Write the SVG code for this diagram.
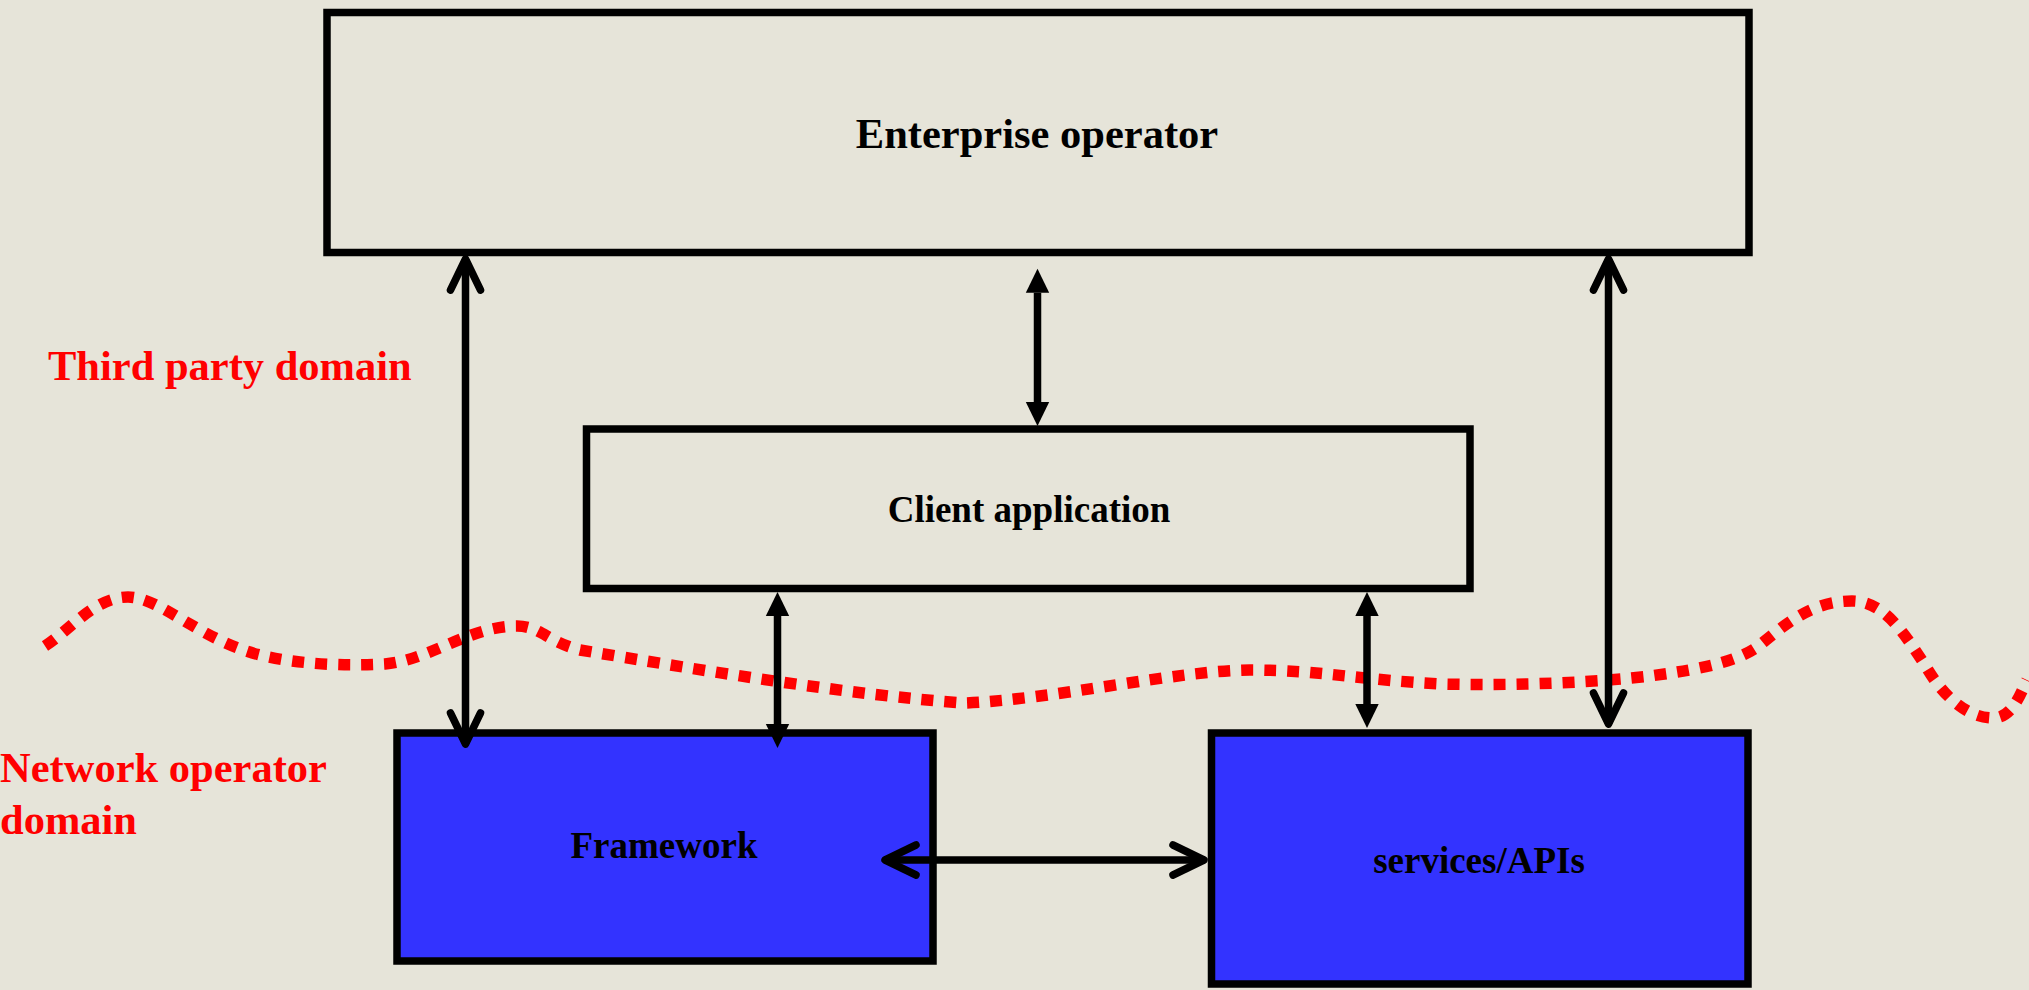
<svg xmlns="http://www.w3.org/2000/svg" width="2029" height="990" viewBox="0 0 2029 990">
<style>
.box{fill:#e6e4d9;stroke:#000;stroke-width:7.5}
.blue{fill:#3333ff;stroke:#000;stroke-width:7.5}
.lbl{font-family:"Liberation Serif","Times New Roman",serif;font-weight:bold;fill:#000;text-anchor:middle}
.dom{font-family:"Liberation Serif","Times New Roman",serif;font-weight:bold;fill:#ff0000;font-size:42.5px}
.big{fill:none;stroke:#000;stroke-width:7.5;marker-start:url(#chev);marker-end:url(#chev)}
.thin{fill:none;stroke:#000;stroke-width:7.5;marker-start:url(#tri);marker-end:url(#tri)}
.wave{fill:none;stroke:#ff0000;stroke-width:11.5;stroke-dasharray:12 11}
</style>
<defs>
<marker id="chev" markerUnits="userSpaceOnUse" orient="auto-start-reverse" markerWidth="1" markerHeight="1" refX="0" refY="0" overflow="visible">
<path d="M-31,-15 L0,0 L-31,15" fill="none" stroke="#000" stroke-width="7.5" stroke-linecap="round" stroke-linejoin="round"/>
</marker>
<marker id="tri" markerUnits="userSpaceOnUse" orient="auto-start-reverse" markerWidth="1" markerHeight="1" refX="0" refY="0" overflow="visible">
<path d="M0,-11.7 L24,0 L0,11.7 Z" fill="#000"/>
</marker>
</defs>
<rect x="0" y="0" width="2029" height="990" fill="#e6e4d9"/>
<g id="domains">
<path class="wave" d="M45,646 C70,630 95,597 128,597 C160,597 200,640 260,655 C300,665 350,666 385,664 C430,660 470,626 517,626 C540,626 548,642 580,650 C700,670 850,695 964,703 C1050,700 1180,670 1250,670 C1320,670 1360,680 1441,684 C1520,686 1600,682 1650,676 C1710,668 1740,660 1760,645 C1790,620 1815,601 1852,601 C1885,601 1905,635 1925,665 C1945,700 1970,718 1993,718 C2012,718 2020,695 2027,680"/>
<text class="dom" x="48" y="380">Third party domain</text>
<text class="dom" x="0" y="782">Network operator</text>
<text class="dom" x="0" y="834">domain</text>
</g>
<g id="enterprise">
<rect class="box" x="327" y="12.5" width="1422" height="240"/>
<text class="lbl" x="1037" y="148" font-size="42.5">Enterprise operator</text>
</g>
<g id="client">
<rect class="box" x="586.5" y="429" width="883.5" height="159.5"/>
<text class="lbl" x="1029" y="522" font-size="37">Client application</text>
</g>
<g id="framework">
<rect class="blue" x="397" y="733" width="536" height="228"/>
<text class="lbl" x="664" y="858" font-size="37">Framework</text>
</g>
<g id="services">
<rect class="blue" x="1211.5" y="733" width="536.5" height="251"/>
<text class="lbl" x="1479" y="873" font-size="37">services/APIs</text>
</g>
<g id="connectors">
<line class="big" x1="465.5" y1="259" x2="465.5" y2="744"/>
<line class="big" x1="1608.5" y1="259" x2="1608.5" y2="724"/>
<line class="big" x1="885" y1="860" x2="1204" y2="860"/>
<line class="thin" x1="1037.5" y1="292.7" x2="1037.5" y2="402"/>
<line class="thin" x1="777.5" y1="616" x2="777.5" y2="724"/>
<line class="thin" x1="1367" y1="616" x2="1367" y2="704"/>
</g>
</svg>
